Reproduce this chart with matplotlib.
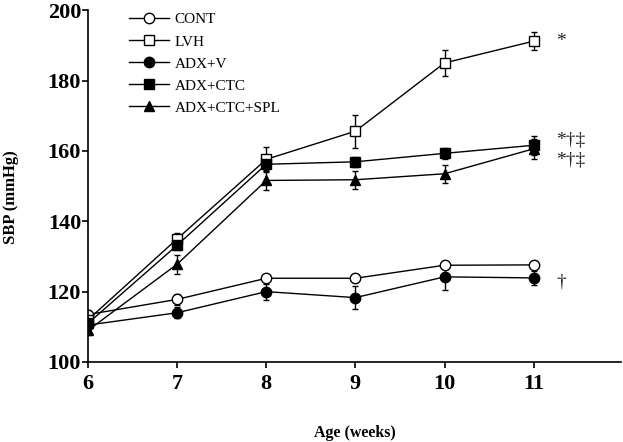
import matplotlib
matplotlib.use("Agg")
import matplotlib.pyplot as plt
from matplotlib.lines import Line2D

plt.rcParams['font.family'] = ['Liberation Serif', 'DejaVu Serif']

weeks = [6, 7, 8, 9, 10, 11]
groups = ["CONT", "LVH", "ADX+V", "ADX+CTC", "ADX+CTC+SPL"]

cont_mean = [113.5, 117.8, 123.8, 123.8, 127.5, 127.6]
cont_err = [1.2, 1.5, 1.2, 1.2, 1.0, 1.0]
lvh_mean = [112.0, 135.0, 157.6, 165.6, 185.0, 191.2]
lvh_err = [1.5, 1.7, 3.5, 4.7, 3.8, 2.6]
adxv_mean = [110.5, 114.0, 120.0, 118.3, 124.2, 123.9]
adxv_err = [1.5, 1.6, 2.3, 3.2, 3.7, 2.0]
ctc_mean = [111.0, 133.2, 156.2, 156.9, 159.3, 161.6]
ctc_err = [1.5, 1.5, 1.5, 1.5, 1.5, 2.7]
spl_mean = [109.0, 127.8, 151.6, 151.8, 153.5, 160.6]
spl_err = [1.2, 2.7, 2.6, 2.5, 2.5, 2.8]

annotations = ["*", "*\u2020\u2021", "*\u2020\u2021", "\u2020"]
annot_y = [191.2, 163.0, 157.3, 122.6]

fig = plt.figure(figsize=(6.23, 4.42), dpi=100)
ax = fig.add_axes([0.1413, 0.181, 0.8555, 0.796])

styles = [
    (cont_mean, cont_err, 'o', 'white', 7.5),
    (lvh_mean, lvh_err, 's', 'white', 7),
    (adxv_mean, adxv_err, 'o', 'black', 7.5),
    (ctc_mean, ctc_err, 's', 'black', 7),
    (spl_mean, spl_err, '^', 'black', 7.5),
]
handles = []
for (m, e, mk, fc, ms), name in zip(styles, groups):
    ax.errorbar(weeks, m, yerr=e, color='black', lw=1.0, elinewidth=1.0,
                capsize=2.5, capthick=1.0, marker=mk, mfc=fc, mec='black',
                mew=1.0, ms=ms)
    handles.append(Line2D([], [], color='black', lw=1.0, marker=mk, mfc=fc,
                          mec='black', mew=1.0, ms=ms, label=name))

for txt, yv in zip(annotations, annot_y):
    ax.text(11.25, yv, txt, fontsize=14, ha='left', va='center', color='#222222')

ax.set_xlim(6, 11.98)
ax.set_ylim(100, 200)
ax.set_xticks(weeks)
ax.set_yticks([100, 120, 140, 160, 180, 200])
ax.spines['top'].set_visible(False)
ax.spines['right'].set_visible(False)
for s in ['left', 'bottom']:
    ax.spines[s].set_linewidth(1.2)
ax.tick_params(direction='out', length=4, width=1.2, labelsize=16)
for lab in ax.get_xticklabels() + ax.get_yticklabels():
    lab.set_fontweight('bold')
ax.tick_params(axis='y', pad=1)
ax.tick_params(axis='x', pad=5)

ax.set_xlabel("Age (weeks)", fontsize=11.5, fontweight='bold', labelpad=22)
ax.set_ylabel("SBP (mmHg)", fontsize=12, fontweight='bold')
ax.yaxis.set_label_coords(-0.13, 0.47)

ax.legend(handles=handles, loc='upper left', bbox_to_anchor=(0.065, 1.01),
          frameon=False, fontsize=11, handlelength=2.6, handletextpad=0.4,
          labelspacing=0.55, borderaxespad=0)

fig.savefig("out.png", dpi=100)
